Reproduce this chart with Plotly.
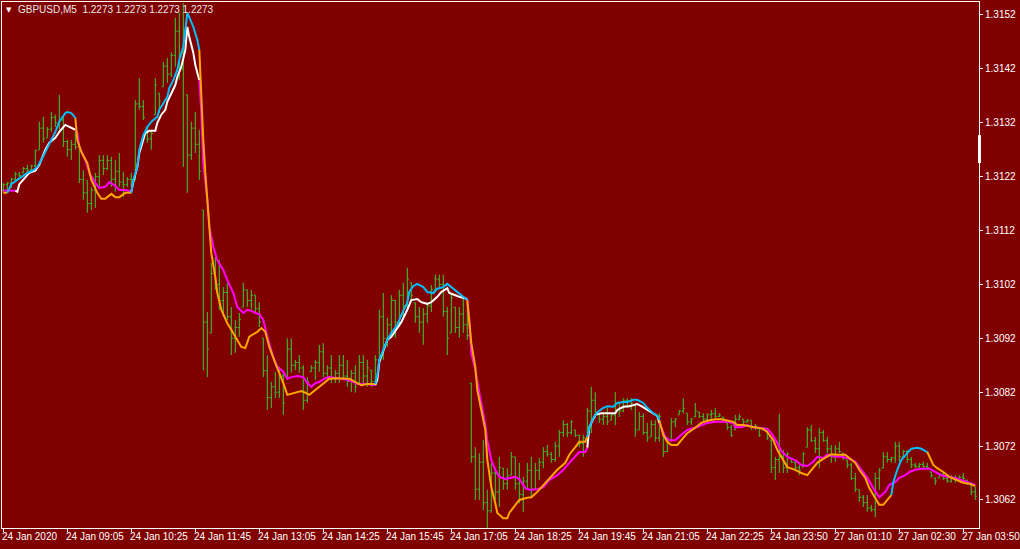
import numpy as np
import plotly.graph_objects as go

# GBPUSD M5 - harga dalam pips di atas 1.3000
BASE = 1.3000
PIP = 0.0001

HIGH_PIPS = [
    120.8, 121.0, 121.8, 122.9, 122.9, 123.8, 124.2, 124.2, 127.0, 132.2,
    133.1, 131.2, 134.0, 133.5, 137.2, 133.1, 128.8, 128.8, 130.7, 127.5,
    123.2, 121.4, 120.1, 122.7, 126.0, 126.0, 126.0, 125.7, 125.1, 126.4,
    122.9, 121.9, 122.7, 136.2, 140.3, 136.2, 131.2, 130.7, 140.3, 137.5,
    143.3, 144.0, 145.1, 151.5, 152.4, 154.2, 137.2, 132.2, 134.0, 130.7,
    115.8, 96.9, 106.0, 107.1, 106.5, 101.5, 102.3, 97.8, 95.4, 96.7,
    102.3, 101.0, 101.0, 100.0, 98.7, 92.0, 88.9, 83.9, 85.8, 86.7,
    85.6, 92.0, 92.0, 88.0, 88.9, 87.0, 84.8, 87.0, 88.0, 90.8,
    91.1, 87.0, 88.9, 86.1, 88.9, 88.9, 88.0, 86.1, 87.0, 88.9,
    88.9, 88.0, 86.1, 88.9, 97.3, 100.4, 95.8, 100.0, 99.1, 101.0,
    102.3, 105.1, 102.3, 98.6, 97.8, 97.6, 98.6, 101.9, 103.8, 103.8,
    103.8, 97.8, 100.4, 97.8, 97.8, 99.7, 98.6, 83.7, 71.8, 70.7,
    73.1, 63.9, 68.9, 67.9, 70.0, 67.9, 67.9, 70.9, 70.0, 68.9,
    66.3, 68.9, 70.0, 68.9, 69.8, 71.8, 72.2, 70.9, 72.8, 75.0,
    76.8, 76.3, 76.8, 75.0, 74.1, 74.1, 79.1, 83.0, 82.0, 78.1,
    78.1, 79.1, 78.1, 82.0, 80.2, 80.9, 80.9, 80.9, 79.6, 78.3,
    78.1, 76.3, 76.8, 76.8, 78.1, 74.4, 73.7, 77.2, 77.2, 78.7,
    80.9, 78.1, 77.2, 80.0, 78.3, 78.1, 78.1, 78.7, 79.1, 78.1,
    77.4, 76.3, 75.9, 77.8, 78.0, 77.0, 77.0, 76.8, 76.1, 75.5,
    75.5, 75.4, 73.1, 70.0, 78.0, 71.3, 70.9, 69.8, 69.1, 68.5,
    70.9, 75.5, 75.9, 73.7, 75.4, 75.0, 73.7, 72.2, 72.2, 72.8,
    70.7, 69.4, 68.9, 67.0, 63.9, 62.9, 62.9, 61.1, 67.0, 67.9,
    70.9, 70.9, 70.0, 72.8, 72.8, 71.3, 71.3, 70.0, 68.9, 68.9,
    69.1, 68.9, 67.2, 66.1, 67.0, 67.0, 66.3, 66.6, 66.6, 66.6,
    67.0, 65.7, 65.2, 64.4,
]
LOW_PIPS = [
    119.0, 119.5, 119.9, 121.4, 121.8, 122.7, 122.9, 123.2, 123.8, 127.0,
    128.3, 129.2, 130.3, 131.2, 130.7, 127.5, 125.7, 125.1, 127.0, 120.8,
    117.7, 115.3, 115.8, 116.2, 120.1, 122.3, 123.2, 120.1, 119.2, 120.1,
    118.2, 120.1, 120.1, 121.4, 134.4, 132.5, 128.3, 127.0, 133.5, 133.8,
    138.7, 139.4, 140.5, 142.4, 140.0, 123.8, 119.0, 125.1, 126.4, 121.4,
    86.1, 84.8, 93.0, 101.0, 97.3, 96.0, 95.4, 88.9, 89.3, 92.3,
    97.8, 97.8, 97.3, 96.7, 94.1, 84.8, 78.7, 79.1, 80.9, 80.9,
    77.8, 84.8, 85.6, 86.1, 85.6, 78.7, 80.0, 85.8, 84.3, 85.8,
    84.8, 84.3, 83.7, 83.7, 83.7, 84.3, 83.0, 82.0, 81.9, 83.7,
    83.7, 83.0, 83.0, 83.9, 88.0, 88.0, 90.4, 92.3, 92.1, 94.1,
    96.0, 97.6, 99.1, 94.9, 93.0, 90.8, 94.9, 96.9, 101.0, 101.5,
    96.0, 88.9, 93.0, 93.0, 92.1, 93.0, 91.7, 68.9, 62.0, 62.0,
    60.1, 56.8, 59.6, 62.0, 60.7, 63.9, 63.9, 66.6, 63.9, 61.4,
    59.8, 63.9, 62.6, 63.9, 65.7, 67.9, 70.0, 68.9, 69.1, 70.0,
    73.7, 73.7, 74.1, 73.7, 71.8, 70.0, 72.8, 74.4, 77.2, 76.3,
    75.9, 75.9, 76.8, 75.9, 77.4, 78.3, 79.1, 78.7, 73.7, 75.0,
    74.1, 72.8, 73.7, 72.8, 72.8, 70.0, 70.9, 72.8, 75.5, 77.8,
    78.1, 75.9, 75.9, 77.4, 77.2, 76.5, 76.5, 76.8, 77.2, 77.4,
    76.8, 75.0, 73.7, 75.0, 76.8, 75.9, 76.3, 75.0, 75.0, 73.7,
    75.0, 73.1, 67.0, 65.7, 67.0, 67.0, 67.0, 68.9, 67.6, 66.6,
    68.1, 71.8, 72.8, 70.7, 67.9, 72.8, 70.7, 68.9, 69.1, 70.7,
    69.4, 67.9, 65.7, 63.5, 61.6, 60.7, 59.8, 59.8, 58.8, 63.9,
    67.9, 68.9, 68.9, 68.9, 69.1, 70.0, 68.9, 67.9, 67.9, 67.9,
    67.9, 67.9, 66.1, 64.8, 66.1, 65.7, 65.2, 65.2, 65.2, 65.7,
    65.7, 64.8, 62.9, 62.0,
]
OPEN_PIPS = [
    119.5, 120.5, 120.8, 121.5, 122.5, 122.7, 123.5, 123.2, 124.0, 127.0,
    131.0, 129.2, 130.8, 133.0, 132.0, 132.5, 128.5, 127.0, 128.0, 127.5,
    121.5, 119.0, 117.0, 119.5, 122.0, 125.0, 123.5, 125.0, 121.5, 123.0,
    121.0, 120.5, 121.5, 121.4, 135.5, 135.0, 131.2, 129.0, 133.5, 137.5,
    138.7, 142.5, 141.0, 144.5, 149.0, 142.0, 137.2, 126.0, 131.0, 128.0,
    115.8, 95.0, 93.0, 104.0, 102.0, 99.0, 100.5, 96.0, 92.0, 94.0,
    97.8, 101.0, 99.0, 100.0, 97.5, 92.0, 86.0, 81.0, 83.0, 82.0,
    85.0, 84.8, 90.0, 87.0, 87.5, 86.5, 80.5, 85.8, 86.5, 87.5,
    89.5, 85.5, 86.5, 84.5, 85.5, 87.0, 85.0, 84.0, 85.5, 83.7,
    87.5, 85.0, 86.1, 84.0, 88.0, 96.0, 92.0, 94.5, 99.0, 95.0,
    100.0, 98.0, 102.3, 98.6, 96.0, 95.0, 96.5, 98.0, 101.0, 103.0,
    102.0, 97.0, 93.0, 97.8, 94.0, 96.5, 94.5, 83.7, 70.0, 64.0,
    69.0, 61.5, 60.0, 67.0, 63.5, 67.9, 65.0, 66.6, 70.0, 65.0,
    63.0, 65.5, 67.5, 64.0, 67.5, 69.0, 71.0, 70.5, 69.5, 72.0,
    74.5, 76.0, 74.5, 75.0, 74.0, 72.5, 73.5, 78.5, 80.5, 78.0,
    77.0, 77.5, 76.8, 77.8, 80.0, 78.5, 80.5, 79.5, 79.6, 75.0,
    77.5, 74.5, 73.7, 76.0, 73.5, 74.4, 71.0, 73.0, 76.5, 77.8,
    78.5, 78.1, 76.5, 77.4, 78.3, 77.5, 77.0, 77.8, 78.0, 77.5,
    77.4, 76.3, 75.5, 75.0, 77.0, 77.0, 76.5, 76.8, 75.5, 75.5,
    75.0, 75.3, 73.1, 68.0, 69.5, 70.0, 68.0, 69.8, 69.0, 68.0,
    68.1, 71.8, 75.0, 73.0, 71.5, 74.5, 73.0, 71.5, 70.0, 71.5,
    70.7, 69.4, 68.5, 66.0, 63.9, 62.5, 61.5, 60.5, 60.2, 66.0,
    67.9, 70.0, 69.5, 69.8, 72.0, 70.0, 71.0, 69.5, 68.5, 68.2,
    68.6, 68.2, 67.2, 66.1, 66.1, 66.8, 66.0, 65.5, 66.2, 65.7,
    66.2, 65.7, 65.2, 63.5,
]
CLOSE_PIPS = [
    120.5, 120.8, 121.5, 122.5, 122.2, 123.5, 123.2, 124.0, 126.8, 131.0,
    129.0, 130.8, 133.0, 132.0, 132.5, 128.5, 127.0, 128.0, 127.5, 121.5,
    119.0, 117.0, 119.5, 122.0, 125.0, 123.5, 125.0, 121.5, 123.0, 121.0,
    120.5, 121.5, 121.0, 135.5, 135.0, 133.0, 129.0, 130.0, 139.0, 136.0,
    142.5, 141.0, 144.5, 149.0, 142.0, 147.0, 126.0, 131.0, 128.0, 123.0,
    95.0, 90.0, 104.0, 102.0, 99.0, 100.5, 96.0, 92.0, 94.0, 95.5,
    101.0, 99.0, 100.0, 97.5, 95.0, 86.0, 81.0, 83.0, 82.0, 85.0,
    80.0, 90.0, 87.0, 87.5, 86.5, 80.5, 84.0, 86.5, 87.5, 89.5,
    85.5, 86.5, 84.5, 85.5, 87.0, 85.0, 84.0, 85.5, 83.0, 87.5,
    85.0, 86.5, 84.0, 88.0, 96.0, 92.0, 94.5, 99.0, 95.0, 100.0,
    98.0, 103.0, 100.0, 96.0, 95.0, 96.5, 98.0, 101.0, 103.0, 102.0,
    97.0, 92.0, 99.5, 94.0, 96.5, 94.5, 92.5, 70.0, 64.0, 69.0,
    61.5, 60.0, 67.0, 63.5, 68.0, 65.0, 66.5, 70.0, 65.0, 63.0,
    65.5, 67.5, 64.0, 67.5, 69.0, 71.0, 70.5, 69.5, 72.0, 74.5,
    76.0, 74.5, 76.5, 74.0, 72.5, 73.5, 78.5, 80.5, 78.0, 77.0,
    77.5, 76.5, 77.8, 80.0, 78.5, 80.5, 79.5, 80.0, 75.0, 77.5,
    74.5, 73.5, 76.0, 73.5, 77.5, 71.0, 73.0, 76.5, 77.0, 78.5,
    79.0, 76.5, 77.0, 78.5, 77.5, 77.0, 77.8, 78.0, 77.5, 77.8,
    77.0, 75.5, 74.0, 77.0, 77.5, 76.5, 76.8, 75.5, 75.8, 74.0,
    75.3, 73.5, 68.0, 69.5, 70.0, 68.0, 70.5, 69.0, 68.0, 67.5,
    70.5, 75.0, 73.0, 71.5, 74.5, 73.0, 71.5, 70.0, 71.5, 71.0,
    69.8, 68.5, 66.0, 64.0, 62.5, 61.5, 60.5, 60.2, 66.0, 67.5,
    70.0, 69.5, 69.8, 72.0, 70.0, 71.0, 69.5, 68.5, 68.2, 68.6,
    68.2, 68.0, 66.5, 65.5, 66.8, 66.0, 65.5, 66.2, 65.6, 66.2,
    66.0, 65.2, 63.5, 62.7,
]

# MA cepat (biru naik / oranye turun): indeks bar, pips
FAST_X = [
    0, 1, 2, 3.5, 4.5, 6, 7.5, 8.5, 9.5, 10.5, 11.5, 13, 14, 15.5, 16, 17, 18,
    18.5, 19.5, 21, 22, 23.5, 24.5, 25.5, 26, 27, 28, 29, 30.5, 32,
    32.5, 33.5, 34, 35, 36, 37, 38.5, 39, 40, 41, 41.5, 42.5, 43.5, 44, 45,
    45.5, 46, 46.5, 47.5, 48.5, 49,
    49.5, 50, 50.5, 51, 51.5, 52, 53, 53.5, 54.5, 56, 57, 58.5, 59.5, 60.5,
    61.5, 63.5, 64.5, 65.5, 66.5, 68, 69, 70, 71, 72, 73.5, 74.5, 75.5, 76.5,
    78, 79, 80.5, 81.5, 83.5, 85, 86.5, 88.5, 89.5, 91, 93,
    93.5, 94, 95, 96, 97, 98.5, 99.5, 101, 101.5, 102.5, 103.5, 105, 106,
    107.5, 108.5, 110, 111, 112, 113.5, 115, 116,
    116.5, 117, 118, 118.5, 119.5, 120.5, 121, 122, 123, 123.5, 125, 126,
    126.5, 128, 129, 131, 132, 133.5, 135.5, 137, 138.5, 140.5, 141.5, 143,
    144, 145.5, 146,
    146.5, 147.5, 148.5, 150, 151, 152.5, 153.5, 155, 156, 157.5, 158.5, 160,
    161, 162.5, 163.5, 164,
    165, 166, 167, 168.5, 169.5, 171, 173, 174.5, 176, 178, 179.5, 181, 182.5,
    183.5, 185, 186.5, 188.5, 190, 191, 192.5, 193.5, 195, 196, 198, 199.5,
    201, 202, 203.5, 204.5, 206, 207, 208.5, 210.5, 211.5, 213, 214, 215.5,
    216.5, 218, 219, 220, 221, 222,
    222.5, 223.5, 224.5, 226, 227, 228.5, 229.5, 231,
    231.5, 232.5, 233.5, 235, 236.5, 238.5, 240, 241.5, 243,
]
FAST_PIPS = [
    119.0, 119.0, 120.6, 121.4, 121.9, 122.7, 123.2, 123.8, 125.1, 126.6, 128.3,
    130.3, 132.2, 133.8, 134.0, 133.8, 132.9,
    128.8, 126.6, 124.5, 121.4, 119.0, 117.9, 117.9, 118.2, 118.8, 118.2, 118.2,
    119.0, 119.0,
    121.4, 123.8, 127.0, 129.7, 131.2, 132.2, 133.1, 134.4, 135.7, 136.8, 138.5,
    139.9, 141.8, 143.7, 146.1, 149.8, 152.4, 151.6, 149.8, 147.4, 145.5,
    136.8, 128.8, 122.7, 117.7, 112.7, 107.8, 103.4, 100.4, 97.3, 94.8, 93.6,
    91.7, 90.4, 90.2, 92.3, 93.2, 93.9, 93.2, 90.4, 87.4, 85.6, 83.7, 81.5,
    81.7, 81.9, 82.2, 81.9, 81.5, 82.4, 83.0, 83.9, 84.5, 84.6, 84.6, 84.5,
    83.7, 83.3, 83.5, 83.5,
    85.2, 88.0, 89.8, 91.7, 93.0, 94.5, 96.3, 98.6, 100.6, 101.7, 102.1, 101.5,
    100.6, 100.4, 101.2, 101.5, 102.1, 101.5, 100.6, 99.7, 99.1,
    95.4, 91.1, 86.7, 82.4, 78.7, 75.0, 69.5, 64.4, 61.4, 59.6, 58.6, 58.6,
    59.6, 61.1, 62.0, 62.4, 62.5, 63.5, 65.2, 66.3, 67.6, 68.9, 70.4, 71.8,
    72.8, 72.8, 73.7,
    75.5, 77.2, 78.3, 79.1, 79.4, 79.3, 80.0, 80.2, 80.2, 80.6, 80.6, 80.0,
    79.1, 78.1, 77.6, 76.8,
    74.1, 72.8, 72.2, 72.2, 73.1, 74.4, 75.4, 76.3, 76.7, 77.0, 77.0, 76.7,
    76.5, 75.9, 75.9, 75.7, 75.4, 75.2, 74.6, 73.1, 71.3, 69.4, 68.1, 67.6,
    67.0, 66.6, 67.6, 68.9, 69.4, 70.0, 70.5, 70.4, 70.4, 69.8, 68.9, 67.6,
    66.1, 64.2, 62.4, 61.1, 61.1, 62.0, 62.9,
    65.3, 67.6, 69.4, 70.7, 71.5, 71.7, 71.5, 70.9,
    70.0, 68.5, 67.9, 67.2, 66.3, 65.7, 65.2, 65.0, 64.6,
]
FAST_SWITCH = [1, 18, 32, 49, 93, 116, 146, 164, 222, 231]

# MA lambat (putih naik / magenta turun)
SLOW_X = [
    0, 3, 3.5, 4, 5.5, 6.5, 8, 9, 10.5, 11.5, 13, 14, 15.5, 16.5, 18,
    18.5, 19, 20.5, 21.5, 23, 24, 25.5, 26.5, 28, 29, 30.5, 32,
    32.5, 33.5, 34, 35.5, 36.5, 38, 38.5, 39.5, 40.5, 41, 42, 43, 43.5, 44.5,
    45.5, 46, 46.5, 47.5, 48, 48.5, 49,
    49.5, 50, 51, 51.5, 52.5, 53.5, 55, 56, 57.5, 58.5, 60, 61, 62, 63, 64, 65,
    66, 67.5, 68.5, 70, 71, 72, 73.5, 75, 76, 77, 78, 79, 80.5, 81.5, 83.5, 86,
    87.5, 88.5, 91, 93,
    93.5, 94, 95, 96, 97, 98.5, 99.5, 101, 102, 103.5, 104.5, 106, 107, 108.5,
    109.5, 111, 111.5, 113, 114, 116,
    116.5, 117, 118, 119, 120, 120.5, 121, 121.5, 122, 123, 124, 125.5, 126.5,
    128, 129, 130.5, 131.5, 133.5, 135, 136.5, 138.5, 140, 141.5, 143, 144,
    145.5, 146,
    146.5, 148, 149.5, 151, 153, 153.5, 155, 156.5, 158.5, 159.5, 161, 162.5,
    163.5, 164,
    165.5, 166.5, 168, 169.5, 171, 173, 174.5, 176, 178, 179.5, 181, 182.5,
    183, 184.5, 186, 187.5, 189, 191, 192, 193.5, 194.5, 196, 198, 199.5, 201,
    202.5, 203.5, 205, 206, 208, 209.5, 211, 213, 214.5, 216, 217.5, 219,
    220.5, 221.5, 223, 224, 225.5, 226.5, 228, 229.5, 231.5, 233, 234.5, 236,
    238, 239.5, 241, 243,
]
SLOW_PIPS = [
    119.4, 119.4, 119.2, 120.6, 121.8, 122.7, 123.1, 124.2, 127.0, 128.3, 129.2,
    130.3, 131.6, 131.2, 130.7,
    130.1, 127.5, 125.1, 122.7, 120.8, 119.9, 120.1, 121.0, 120.3, 119.5, 119.5,
    119.2,
    121.0, 123.8, 126.4, 130.1, 130.5, 130.5, 132.0, 133.5, 134.4, 135.9, 137.5,
    139.0, 140.5, 142.4, 145.5, 149.8, 147.9, 145.0, 142.7, 141.4, 139.9,
    133.8, 124.5, 117.7, 112.7, 109.0, 106.5, 104.7, 102.8, 100.4, 97.8, 96.7,
    97.3, 97.1, 96.7, 96.5, 95.4, 92.3, 88.5, 86.7, 85.8, 84.5, 84.8, 85.0,
    84.8, 83.7, 83.0, 83.7, 83.9, 84.6, 84.8, 84.6, 84.3, 83.9, 83.5, 83.5,
    83.3,
    84.3, 87.6, 89.8, 91.7, 92.3, 93.9, 95.0, 97.3, 99.1, 99.3, 98.7, 98.4,
    98.7, 99.7, 100.6, 101.3, 100.4, 100.0, 99.7, 99.3,
    95.4, 89.3, 86.1, 81.9, 78.1, 76.0, 73.0, 71.3, 69.4, 67.6, 66.3, 65.9,
    66.1, 66.3, 65.9, 64.2, 63.9, 64.0, 64.4, 65.7, 66.6, 67.6, 68.9, 70.0,
    70.9, 70.9, 71.7,
    75.5, 77.8, 78.1, 78.1, 78.1, 78.7, 79.3, 79.4, 79.8, 79.4, 78.7, 78.1,
    77.6, 76.3,
    73.7, 73.1, 73.1, 74.1, 75.0, 75.4, 75.9, 76.3, 76.5, 76.5, 76.5, 76.3,
    75.5, 75.5, 75.9, 75.5, 75.4, 75.2, 74.4, 72.6, 71.1, 70.0, 69.4, 68.5,
    68.3, 69.1, 70.0, 69.8, 70.4, 70.0, 70.0, 69.8, 69.1, 67.6, 66.1, 64.2,
    62.5, 63.5, 64.8, 65.3, 66.1, 66.6, 67.2, 67.6, 67.8, 67.8, 67.2, 66.6,
    66.3, 66.1, 65.7, 65.3, 64.8,
]
SLOW_SWITCH = [3, 18, 32, 49, 93, 116, 146, 164]

TICK_BARS = [0, 16, 32, 48, 64, 80, 96, 112, 128, 144, 160, 176, 192, 208, 224, 240]
TICK_LABELS = [
    "24 Jan 2020", "24 Jan 09:05", "24 Jan 10:25", "24 Jan 11:45",
    "24 Jan 13:05", "24 Jan 14:25", "24 Jan 15:45", "24 Jan 17:05",
    "24 Jan 18:25", "24 Jan 19:45", "24 Jan 21:05", "24 Jan 22:25",
    "24 Jan 23:50", "27 Jan 01:10", "27 Jan 02:30", "27 Jan 03:50",
]
PRICE_TICKS = [1.3062, 1.3072, 1.3082, 1.3092, 1.3102,
               1.3112, 1.3122, 1.3132, 1.3142, 1.3152]

BG = "#800000"
BAR_COLOR = "#32cd32"
FONT = "Liberation Sans, Arial, sans-serif"


def to_price(pips):
    return BASE + np.asarray(pips, dtype=float) * PIP


def add_colored_line(fig, xs, pips, switches, colors):
    # warna berganti di setiap titik switch (mulai dengan warna 'turun')
    bounds = [xs[0]] + switches + [xs[-1]]
    prices = to_price(pips)
    for k in range(len(bounds) - 1):
        a, b = bounds[k], bounds[k + 1]
        seg_x = [x for x in xs if a <= x <= b]
        seg_y = [p for x, p in zip(xs, prices) if a <= x <= b]
        fig.add_trace(go.Scatter(
            x=seg_x, y=seg_y, mode="lines",
            line=dict(color=colors[k % 2], width=2),
            showlegend=False, hoverinfo="skip",
        ))


bars = list(range(len(HIGH_PIPS)))

fig = go.Figure()
fig.add_trace(go.Ohlc(
    x=bars,
    open=to_price(OPEN_PIPS),
    high=to_price(HIGH_PIPS),
    low=to_price(LOW_PIPS),
    close=to_price(CLOSE_PIPS),
    increasing=dict(line=dict(color=BAR_COLOR, width=1)),
    decreasing=dict(line=dict(color=BAR_COLOR, width=1)),
    tickwidth=0.4,
    showlegend=False,
    hoverinfo="skip",
))

add_colored_line(fig, SLOW_X, SLOW_PIPS, SLOW_SWITCH, ["#ff00ff", "#ffffff"])
add_colored_line(fig, FAST_X, FAST_PIPS, FAST_SWITCH, ["#ffa500", "#00bfff"])

annotations = []
for b, label in zip(TICK_BARS, TICK_LABELS):
    annotations.append(dict(
        x=b, y=0, xref="x", yref="paper", text=label, showarrow=False,
        xanchor="left", yanchor="top", xshift=-3, yshift=-1,
        font=dict(family=FONT, size=10, color="white"),
    ))

annotations.append(dict(
    x=0.0072, y=0.985, xref="paper", yref="paper", text="\u25bc",
    showarrow=False, xanchor="center", yanchor="middle",
    font=dict(family="DejaVu Sans", size=7, color="white"),
))
annotations.append(dict(
    x=0.0143, y=0.985, xref="paper", yref="paper",
    text="GBPUSD,M5  1.2273 1.2273 1.2273 1.2273",
    showarrow=False, xanchor="left", yanchor="middle",
    font=dict(family=FONT, size=10, color="#e8e8e8"),
))

fig.update_layout(
    width=1020, height=549,
    margin=dict(l=2, r=41, t=2, b=21),
    paper_bgcolor=BG, plot_bgcolor=BG,
    font=dict(family=FONT, size=10, color="white"),
    hovermode=False,
    xaxis=dict(
        range=[-0.33, 243.93], showgrid=False, zeroline=False,
        showline=True, linecolor="white", linewidth=1, mirror=True,
        ticks="outside", ticklen=3, tickcolor="white",
        tickvals=TICK_BARS, showticklabels=False,
        rangeslider=dict(visible=False),
    ),
    yaxis=dict(
        range=[1.305680, 1.315441], side="right", showgrid=False,
        zeroline=False, showline=True, linecolor="white", linewidth=1,
        mirror=True, ticks="outside", ticklen=3, tickcolor="white",
        tickvals=PRICE_TICKS, ticktext=[f"{v:.4f}" for v in PRICE_TICKS],
        tickfont=dict(family=FONT, size=10, color="white"),
        automargin=False,
    ),
    annotations=annotations,
    shapes=[dict(
        type="rect", xref="paper", yref="paper",
        x0=0.999, x1=1.002, y0=0.694, y1=0.747,
        fillcolor="white", line=dict(width=0),
    )],
)

# halaman tanpa margin body supaya grafik mulai di pojok kiri atas
fig.write_html(
    "out.html",
    config={"displayModeBar": False, "staticPlot": True},
    post_script="document.body.style.margin='0';"
                "document.body.style.background='#800000';"
                "document.body.style.overflow='hidden';",
)
